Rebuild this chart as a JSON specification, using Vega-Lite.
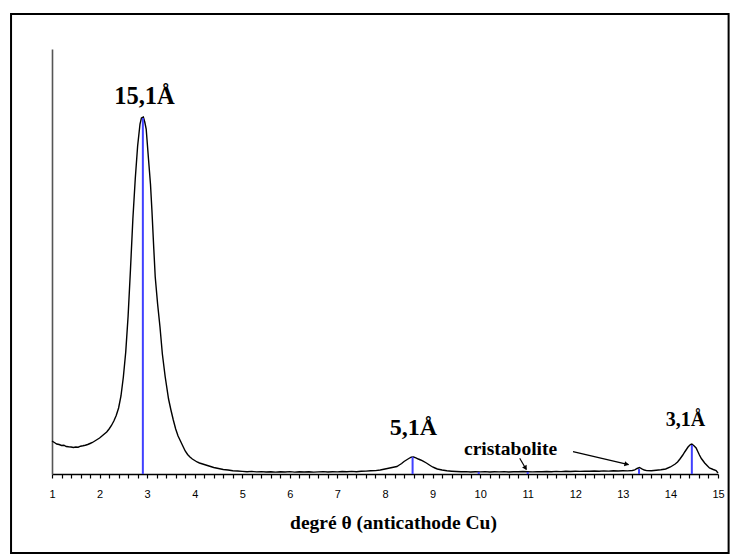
{
  "$schema": "https://vega.github.io/schema/vega-lite/v6.json",
  "width": 666,
  "height": 425,
  "autosize": {"type": "none"},
  "padding": {"left": 52, "top": 49, "right": 12, "bottom": 80},
  "background": "white",
  "config": {"view": {"stroke": null}},
  "datasets": {
    "curve": [
      {"x": 1.00, "y": 33}, {"x": 1.05, "y": 31.5}, {"x": 1.10, "y": 30}, {"x": 1.15, "y": 29.5}, {"x": 1.20, "y": 28.5},
      {"x": 1.25, "y": 28.8}, {"x": 1.30, "y": 27.5}, {"x": 1.35, "y": 27.2}, {"x": 1.40, "y": 27}, {"x": 1.45, "y": 26.5},
      {"x": 1.50, "y": 27}, {"x": 1.55, "y": 26.8}, {"x": 1.60, "y": 27.8}, {"x": 1.65, "y": 28.2}, {"x": 1.70, "y": 28.8},
      {"x": 1.75, "y": 29.5}, {"x": 1.80, "y": 30.5}, {"x": 1.85, "y": 31.5}, {"x": 1.90, "y": 33}, {"x": 1.95, "y": 34.5},
      {"x": 2.00, "y": 36}, {"x": 2.05, "y": 38}, {"x": 2.10, "y": 40}, {"x": 2.15, "y": 42}, {"x": 2.20, "y": 45},
      {"x": 2.25, "y": 48.5}, {"x": 2.30, "y": 53}, {"x": 2.35, "y": 58.5}, {"x": 2.40, "y": 66}, {"x": 2.45, "y": 78},
      {"x": 2.50, "y": 97}, {"x": 2.55, "y": 122}, {"x": 2.60, "y": 158}, {"x": 2.65, "y": 205}, {"x": 2.70, "y": 255},
      {"x": 2.75, "y": 295}, {"x": 2.80, "y": 328}, {"x": 2.85, "y": 350}, {"x": 2.88, "y": 356}, {"x": 2.92, "y": 357},
      {"x": 2.95, "y": 352}, {"x": 2.98, "y": 345}, {"x": 3.03, "y": 314}, {"x": 3.07, "y": 290}, {"x": 3.10, "y": 264},
      {"x": 3.14, "y": 225}, {"x": 3.17, "y": 197}, {"x": 3.22, "y": 170}, {"x": 3.27, "y": 147}, {"x": 3.32, "y": 120},
      {"x": 3.38, "y": 97}, {"x": 3.45, "y": 75}, {"x": 3.50, "y": 64}, {"x": 3.55, "y": 54}, {"x": 3.60, "y": 45},
      {"x": 3.65, "y": 38}, {"x": 3.70, "y": 33}, {"x": 3.76, "y": 27}, {"x": 3.80, "y": 23}, {"x": 3.85, "y": 19.5},
      {"x": 3.90, "y": 17}, {"x": 3.95, "y": 15}, {"x": 4.00, "y": 13.5}, {"x": 4.05, "y": 12}, {"x": 4.10, "y": 11},
      {"x": 4.20, "y": 9.5}, {"x": 4.30, "y": 8}, {"x": 4.40, "y": 6.5}, {"x": 4.50, "y": 5.5}, {"x": 4.60, "y": 4.5},
      {"x": 4.70, "y": 4}, {"x": 4.80, "y": 3.2}, {"x": 4.90, "y": 3}, {"x": 5.00, "y": 2.6}, {"x": 5.10, "y": 2.3},
      {"x": 5.20, "y": 2.6}, {"x": 5.30, "y": 2.1}, {"x": 5.40, "y": 2.4}, {"x": 5.50, "y": 2.0}, {"x": 5.60, "y": 2.3},
      {"x": 5.70, "y": 1.9}, {"x": 5.80, "y": 2.2}, {"x": 5.90, "y": 2.0}, {"x": 6.00, "y": 2.4}, {"x": 6.10, "y": 1.9},
      {"x": 6.20, "y": 2.2}, {"x": 6.30, "y": 2.0}, {"x": 6.40, "y": 2.3}, {"x": 6.50, "y": 1.9}, {"x": 6.60, "y": 2.1},
      {"x": 6.70, "y": 2.4}, {"x": 6.80, "y": 2.0}, {"x": 6.90, "y": 2.3}, {"x": 7.00, "y": 2.1}, {"x": 7.10, "y": 2.5},
      {"x": 7.20, "y": 2.2}, {"x": 7.30, "y": 2.6}, {"x": 7.40, "y": 2.3}, {"x": 7.50, "y": 2.7}, {"x": 7.60, "y": 2.9},
      {"x": 7.70, "y": 3.2}, {"x": 7.80, "y": 3.4}, {"x": 7.90, "y": 4}, {"x": 8.00, "y": 5}, {"x": 8.10, "y": 6},
      {"x": 8.20, "y": 7}, {"x": 8.25, "y": 7.5}, {"x": 8.30, "y": 9}, {"x": 8.35, "y": 10.5}, {"x": 8.40, "y": 12.5},
      {"x": 8.45, "y": 14}, {"x": 8.50, "y": 15.5}, {"x": 8.55, "y": 16.8}, {"x": 8.60, "y": 17}, {"x": 8.65, "y": 16.2},
      {"x": 8.70, "y": 15}, {"x": 8.75, "y": 14}, {"x": 8.80, "y": 12.8}, {"x": 8.87, "y": 11}, {"x": 8.95, "y": 8.5},
      {"x": 9.00, "y": 7}, {"x": 9.05, "y": 6}, {"x": 9.10, "y": 5}, {"x": 9.20, "y": 4}, {"x": 9.30, "y": 3.2},
      {"x": 9.40, "y": 2.8}, {"x": 9.50, "y": 2.5}, {"x": 9.60, "y": 2.2}, {"x": 9.70, "y": 2.4}, {"x": 9.80, "y": 2.0},
      {"x": 9.90, "y": 2.3}, {"x": 10.00, "y": 2.1}, {"x": 10.10, "y": 2.4}, {"x": 10.20, "y": 2.0}, {"x": 10.30, "y": 2.3},
      {"x": 10.40, "y": 2.1}, {"x": 10.50, "y": 2.4}, {"x": 10.60, "y": 2.0}, {"x": 10.70, "y": 2.3}, {"x": 10.80, "y": 2.2},
      {"x": 10.90, "y": 2.5}, {"x": 11.00, "y": 2.3}, {"x": 11.10, "y": 2.1}, {"x": 11.20, "y": 2.4}, {"x": 11.30, "y": 2.2},
      {"x": 11.40, "y": 2.5}, {"x": 11.50, "y": 2.3}, {"x": 11.60, "y": 2.6}, {"x": 11.70, "y": 2.4}, {"x": 11.80, "y": 2.7},
      {"x": 11.90, "y": 2.5}, {"x": 12.00, "y": 2.8}, {"x": 12.10, "y": 2.6}, {"x": 12.20, "y": 2.9}, {"x": 12.30, "y": 2.7},
      {"x": 12.40, "y": 3.0}, {"x": 12.50, "y": 2.8}, {"x": 12.60, "y": 3.1}, {"x": 12.70, "y": 2.9}, {"x": 12.80, "y": 3.2},
      {"x": 12.90, "y": 3.0}, {"x": 13.00, "y": 3.3}, {"x": 13.10, "y": 3.1}, {"x": 13.20, "y": 3.5}, {"x": 13.25, "y": 4.2},
      {"x": 13.30, "y": 5.5}, {"x": 13.35, "y": 6.5}, {"x": 13.40, "y": 5.2}, {"x": 13.45, "y": 4}, {"x": 13.50, "y": 3.4},
      {"x": 13.60, "y": 3.2}, {"x": 13.70, "y": 3.8}, {"x": 13.80, "y": 4.2}, {"x": 13.90, "y": 5}, {"x": 14.00, "y": 7},
      {"x": 14.10, "y": 10}, {"x": 14.15, "y": 12}, {"x": 14.20, "y": 15}, {"x": 14.26, "y": 19}, {"x": 14.30, "y": 22},
      {"x": 14.37, "y": 27}, {"x": 14.42, "y": 29.5}, {"x": 14.45, "y": 30}, {"x": 14.50, "y": 28}, {"x": 14.54, "y": 26},
      {"x": 14.58, "y": 22}, {"x": 14.61, "y": 19}, {"x": 14.65, "y": 15.5}, {"x": 14.72, "y": 11}, {"x": 14.77, "y": 8.5},
      {"x": 14.82, "y": 6}, {"x": 14.90, "y": 4.5}, {"x": 14.96, "y": 3.5}, {"x": 15.00, "y": 1}
    ],
    "sticks": [
      {"x": 2.91, "h": 356},
      {"x": 8.58, "h": 17},
      {"x": 9.97, "h": 2},
      {"x": 11.0, "h": 2},
      {"x": 13.34, "h": 5},
      {"x": 14.45, "h": 29}
    ],
    "one": [{}]
  },
  "layer": [
    {
      "data": {"name": "curve"},
      "mark": {"type": "line", "color": "black", "strokeWidth": 1.4, "clip": false},
      "encoding": {
        "x": {
          "field": "x", "type": "quantitative",
          "scale": {"domain": [1, 15], "nice": false, "zero": false},
          "axis": {
            "title": "degré θ (anticathode Cu)",
            "titleFont": "Liberation Serif", "titleFontSize": 19.5, "titleFontWeight": "bold", "titleColor": "black",
            "titleBaseline": "alphabetic", "titleY": 54, "titleX": 341,
            "grid": false,
            "domainColor": "black", "domainWidth": 1.5,
            "tickColor": "black", "tickWidth": 1.2, "tickSize": 4, "tickCount": 500,
            "values": [1,1.2,1.4,1.6,1.8,2,2.2,2.4,2.6,2.8,3,3.2,3.4,3.6,3.8,4,4.2,4.4,4.6,4.8,5,5.2,5.4,5.6,5.8,6,6.2,6.4,6.6,6.8,7,7.2,7.4,7.6,7.8,8,8.2,8.4,8.6,8.8,9,9.2,9.4,9.6,9.8,10,10.2,10.4,10.6,10.8,11,11.2,11.4,11.6,11.8,12,12.2,12.4,12.6,12.8,13,13.2,13.4,13.6,13.8,14,14.2,14.4,14.6,14.8,15],
            "labelExpr": "abs(datum.value - round(datum.value)) < 0.01 ? format(datum.value, 'd') : ''",
            "labelFont": "Liberation Sans", "labelFontSize": 11, "labelColor": "black",
            "labelPadding": 10, "labelFlush": false, "labelOverlap": false,
            "encode": {
              "ticks": {
                "update": {
                  "y": {"signal": "abs(datum.value - round(datum.value)) < 0.01 ? -4 : 0"},
                  "y2": {"signal": "abs(datum.value - round(datum.value)) < 0.01 ? 5 : 4"}
                }
              }
            }
          }
        },
        "y": {
          "field": "y", "type": "quantitative",
          "scale": {"domain": [0, 425], "nice": false, "zero": false},
          "axis": {"title": null, "labels": false, "ticks": false, "grid": false, "domainColor": "#555555", "domainWidth": 1.6}
        }
      }
    },
    {
      "data": {"name": "sticks"},
      "mark": {"type": "rule", "color": "#4040ff", "strokeWidth": 2},
      "encoding": {
        "x": {"field": "x", "type": "quantitative"},
        "y": {"field": "h", "type": "quantitative"},
        "y2": {"datum": 0}
      }
    },
    {
      "data": {"name": "one"},
      "mark": {"type": "text", "text": "15,1Å", "font": "Liberation Serif", "fontWeight": "bold", "fontSize": 24.5, "align": "center", "baseline": "alphabetic", "color": "black"},
      "encoding": {"x": {"datum": 2.943, "type": "quantitative"}, "y": {"datum": 370, "type": "quantitative"}}
    },
    {
      "data": {"name": "one"},
      "mark": {"type": "text", "text": "5,1Å", "font": "Liberation Serif", "fontWeight": "bold", "fontSize": 24, "align": "center", "baseline": "alphabetic", "color": "black"},
      "encoding": {"x": {"datum": 8.60, "type": "quantitative"}, "y": {"datum": 39, "type": "quantitative"}}
    },
    {
      "data": {"name": "one"},
      "mark": {"type": "text", "text": "3,1Å", "font": "Liberation Serif", "fontWeight": "bold", "fontSize": 20, "align": "center", "baseline": "alphabetic", "color": "black"},
      "encoding": {"x": {"datum": 14.315, "type": "quantitative"}, "y": {"datum": 48.3, "type": "quantitative"}}
    },
    {
      "data": {"name": "one"},
      "mark": {"type": "text", "text": "cristabolite", "font": "Liberation Serif", "fontWeight": "bold", "fontSize": 19.5, "align": "center", "baseline": "alphabetic", "color": "black"},
      "encoding": {"x": {"datum": 10.64, "type": "quantitative"}, "y": {"datum": 19, "type": "quantitative"}}
    },
    {
      "data": {"name": "one"},
      "mark": {"type": "rule", "color": "black", "strokeWidth": 1.2},
      "encoding": {"x": {"datum": 10.832, "type": "quantitative"}, "y": {"datum": 15.7, "type": "quantitative"}, "x2": {"datum": 10.97}, "y2": {"datum": 4.5}}
    },
    {
      "data": {"name": "one"},
      "mark": {"type": "rule", "color": "black", "strokeWidth": 1.2},
      "encoding": {"x": {"datum": 11.952, "type": "quantitative"}, "y": {"datum": 22.3, "type": "quantitative"}, "x2": {"datum": 13.12}, "y2": {"datum": 9.4}}
    },
    {
      "data": {"name": "one"},
      "mark": {"type": "point", "shape": "triangle-up", "filled": true, "color": "black", "size": 28, "angle": 149.5, "opacity": 1},
      "encoding": {"x": {"datum": 10.954, "type": "quantitative"}, "y": {"datum": 5.9, "type": "quantitative"}}
    },
    {
      "data": {"name": "one"},
      "mark": {"type": "point", "shape": "triangle-up", "filled": true, "color": "black", "size": 28, "angle": 103.2, "opacity": 1},
      "encoding": {"x": {"datum": 13.082, "type": "quantitative"}, "y": {"datum": 9.7, "type": "quantitative"}}
    },
    {
      "data": {"name": "one"},
      "mark": {"type": "rect", "fillOpacity": 0, "stroke": "black", "strokeWidth": 2, "clip": false},
      "encoding": {"x": {"datum": 0.139, "type": "quantitative"}, "x2": {"datum": 15.223}, "y": {"datum": 460, "type": "quantitative"}, "y2": {"datum": -79}}
    }
  ]
}
